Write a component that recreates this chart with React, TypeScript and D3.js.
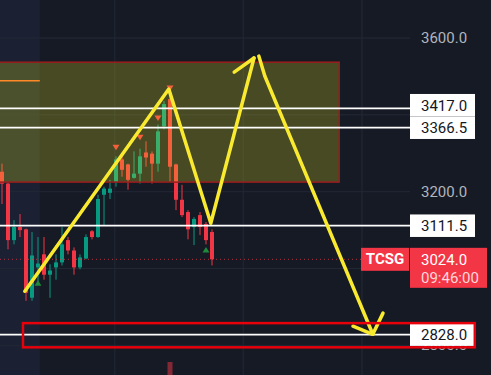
import React from 'react';
import * as d3 from 'd3';

// OHLC (index 0 = leftmost candle)
const opens = [3252, 3221, 3074, 3108, 3102, 2924, 3003, 3037, 2984, 3003, 3016, 3074, 3047, 3003, 3026, 3097, 3082, 3192, 3197, 3226, 3284, 3271, 3236, 3247, 3302, 3299, 3273, 3370, 3441, 3271, 3179, 3147, 3108, 3139, 3116, 3095];
const highs = [3273, 3225, 3126, 3142, 3104, 3095, 3082, 3082, 3011, 3037, 3108, 3082, 3055, 3037, 3089, 3100, 3192, 3213, 3231, 3292, 3297, 3273, 3305, 3312, 3331, 3305, 3375, 3436, 3467, 3273, 3218, 3152, 3134, 3147, 3121, 3102];
const lows = [3168, 3050, 3063, 3082, 2916, 2916, 2958, 2971, 2924, 2971, 3008, 3037, 2984, 2998, 3024, 3076, 3080, 3113, 3181, 3213, 3239, 3205, 3234, 3221, 3265, 3221, 3252, 3362, 3226, 3152, 3134, 3076, 3061, 3087, 3063, 3008];
const closes = [3221, 3074, 3108, 3100, 2937, 3034, 3013, 2984, 2995, 3016, 3063, 3047, 3003, 3029, 3082, 3082, 3181, 3208, 3208, 3284, 3257, 3231, 3247, 3292, 3289, 3273, 3357, 3428, 3265, 3179, 3139, 3102, 3129, 3108, 3074, 3024];
const volumes = [34, 52, 28, 22, 58, 55, 30, 33, 26, 21, 37, 24, 29, 19, 35, 18, 49, 41, 25, 47, 31, 33, 27, 39, 28, 36, 51, 57, 100, 62, 38, 44, 27, 30, 36, 48];

// signal markers: [bar index, price]
const sellMarks: [number, number][] = [[19, 3316], [23, 3342], [26, 3392], [28, 3470]];
const buyMarks: [number, number][] = [[6, 2962], [34, 3048]];

const priceTicks = [3600, 3400, 3200, 3000, 2800];
const timeGrid = [18.8, 40.2, 60];
const levels = [3417, 3366.5, 3111.5, 2828];
const lastPrice = 3024;
const symbol = 'TCSG';
const countdown = '09:46:00';

// drawn objects, in [bar index, price]
const zone = { from: -1, to: 56.2, top: 3537, bottom: 3225 };
const targetBox = { from: 3.5, to: 78.8, top: 2858, bottom: 2795 };
const orangeLine = { from: -1, to: 6.3, price: 3489 };
const sessionEnd = 6.3;
const pathUp: [number, number][] = [[3.8, 2941], [27.8, 3467], [34.8, 3118], [42, 3548]];
const wingUp: [number, number][] = [[38.7, 3511], [42, 3548]];
const pathDown: [number, number][] = [[42.8, 3553], [43.8, 3501], [61.8, 2829]];
const wingsDown: [number, number][][] = [[[58.5, 2850], [61.8, 2829]], [[63.5, 2884], [61.8, 2829]]];

const W = 491;
const H = 375;
const axisX = 410;
const UP = '#089981';
const DOWN = '#f23645';
const YELLOW = '#f9ea2f';
const FONT = 'Roboto, "Noto Sans", sans-serif';

const App: React.FC = () => {
  const x = d3.scaleLinear().domain([0, 35]).range([2, 212]);
  const y = d3.scaleLinear().domain([3200, 3600]).range([191.7, 38]);
  const vol = d3.scaleLinear().domain([0, d3.max(volumes) as number]).range([0, 38]);
  const bodyW = 4;

  const line = d3.line<[number, number]>().x(d => x(d[0])).y(d => y(d[1]));

  // push overlapping level labels apart (like the price scale does)
  const boxH = 22.5;
  const centers = levels.map(v => y(v));
  const order = d3.range(levels.length).sort((a, b) => centers[a] - centers[b]);
  for (let k = order.length - 2; k >= 0; k--) {
    const a = order[k], b = order[k + 1];
    if (centers[b] - centers[a] < boxH) centers[a] = centers[b] - boxH;
  }

  const lastY = y(lastPrice);
  // areas of the price scale hidden by label boxes (touching boxes merged)
  const raw: [number, number][] = [
    ...centers.map(c => [c - boxH / 2, c + boxH / 2] as [number, number]),
    [lastY - 11.5, lastY + 28.5],
  ].sort((a, b) => a[0] - b[0]);
  const covers: [number, number][] = [];
  raw.forEach(r => {
    const last = covers[covers.length - 1];
    if (last && r[0] <= last[1] + 0.5) last[1] = Math.max(last[1], r[1]);
    else covers.push([r[0], r[1]]);
  });
  const visibleTicks = priceTicks.filter(t => !covers.some(([a, b]) => y(t) - 5.5 >= a && y(t) + 5.5 <= b));

  const tri = (cx: number, cy: number, down: boolean) => {
    const s = 3.5;
    return down
      ? `M${cx - s},${cy - 2.5}L${cx + s},${cy - 2.5}L${cx},${cy + 3}Z`
      : `M${cx - s},${cy + 2.5}L${cx + s},${cy + 2.5}L${cx},${cy - 3}Z`;
  };

  return (
    <div style={{ position: 'fixed', left: 0, top: 0, width: W, height: H }}>
      <svg width={W} height={H} style={{ display: 'block' }}>
        <rect width={W} height={H} fill="#161a25" />
        <rect x={0} y={0} width={x(sessionEnd)} height={H} fill="#1b2132" />

        {/* grid */}
        {priceTicks.map(t => (
          <line key={t} x1={0} x2={axisX} y1={y(t)} y2={y(t)} stroke="#232836" strokeWidth={1} />
        ))}
        {timeGrid.map(t => (
          <line key={t} x1={x(t)} x2={x(t)} y1={0} y2={H} stroke="#232836" strokeWidth={1} />
        ))}

        {/* volume */}
        {volumes.map((v, i) => (
          <rect key={i} x={x(i) - 2.5} y={400 - vol(v)} width={5} height={vol(v)}
            fill={closes[i] >= opens[i] ? UP : DOWN} opacity={0.5} />
        ))}

        <line x1={x(orangeLine.from)} x2={x(orangeLine.to)} y1={y(orangeLine.price)} y2={y(orangeLine.price)}
          stroke="#ff6a2a" strokeWidth={1.5} />

        {/* candles */}
        {opens.map((o, i) => {
          const c = closes[i];
          const col = c >= o ? UP : DOWN;
          const top = y(Math.max(o, c));
          const bot = y(Math.min(o, c));
          return (
            <g key={i}>
              <line x1={x(i)} x2={x(i)} y1={y(highs[i])} y2={y(lows[i])} stroke={col} strokeWidth={1} />
              <rect x={x(i) - bodyW / 2} y={top} width={bodyW} height={Math.max(1, bot - top)} fill={col} />
            </g>
          );
        })}

        {sellMarks.map(([i, p], k) => (
          <path key={'s' + k} d={tri(x(i), y(p), true)} fill={DOWN} />
        ))}
        {buyMarks.map(([i, p], k) => (
          <path key={'b' + k} d={tri(x(i), y(p), false)} fill="#1e8a3c" />
        ))}

        {/* zone */}
        <rect x={x(zone.from)} y={y(zone.top)} width={x(zone.to) - x(zone.from)} height={y(zone.bottom) - y(zone.top)}
          fill="rgba(255,255,30,0.21)" stroke="#9a1d1d" strokeWidth={1.5} />

        {/* last price line */}
        <line x1={0} x2={axisX} y1={lastY} y2={lastY} stroke={DOWN} strokeOpacity={0.7} strokeWidth={1} strokeDasharray="1 3" />

        {/* horizontal levels */}
        {levels.map(v => (
          <line key={v} x1={0} x2={axisX} y1={y(v)} y2={y(v)} stroke="#ffffff" strokeWidth={1.8} />
        ))}

        {/* price axis */}
        {visibleTicks.map(t => (
          <text key={t} x={421} y={y(t)} dominantBaseline="central" fontFamily={FONT} fontSize={15} fill="#b2b5be">
            {t.toFixed(1)}
          </text>
        ))}

        {levels.map((v, k) => (
          <g key={v}>
            <rect x={axisX} y={centers[k] - boxH / 2} width={65} height={boxH} fill="#ffffff" />
            <text x={421} y={centers[k] + 0.5} dominantBaseline="central" fontFamily={FONT} fontSize={15} fill="#131722">
              {v.toFixed(1)}
            </text>
          </g>
        ))}

        {/* symbol + last price */}
        <rect x={361} y={lastY - 11.5} width={48} height={23} fill={DOWN} />
        <text x={385} y={lastY} textAnchor="middle" dominantBaseline="central" fontFamily={FONT} fontSize={15}
          fontWeight="bold" fill="#ffffff">{symbol}</text>
        <rect x={axisX} y={lastY - 11.5} width={77} height={40} fill={DOWN} />
        <text x={421} y={lastY + 0.5} dominantBaseline="central" fontFamily={FONT} fontSize={15} fill="#ffffff">
          {lastPrice.toFixed(1)}
        </text>
        <text x={421} y={lastY + 19} dominantBaseline="central" fontFamily={FONT} fontSize={15} fill="#ffd6da">
          {countdown}
        </text>

        {/* drawings */}
        <g fill="none" stroke={YELLOW} strokeWidth={3.5} strokeLinecap="round" strokeLinejoin="round">
          <path d={line(pathUp) as string} />
          <path d={line(wingUp) as string} />
          <path d={line(pathDown) as string} />
          {wingsDown.map((w, k) => <path key={k} d={line(w) as string} />)}
        </g>

        <rect x={x(targetBox.from)} y={y(targetBox.top)} width={x(targetBox.to) - x(targetBox.from)}
          height={y(targetBox.bottom) - y(targetBox.top)} fill="none" stroke="#e8000b" strokeWidth={2.5} />
      </svg>
    </div>
  );
};

export default App;
